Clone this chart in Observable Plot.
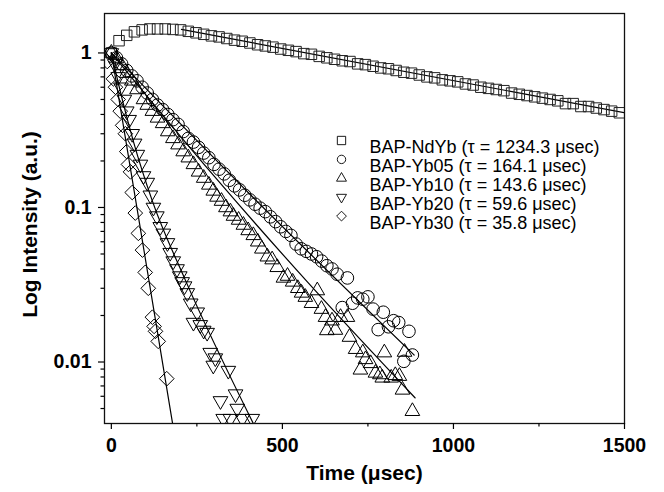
<!DOCTYPE html>
<html><head><meta charset="utf-8">
<script src="https://cdn.jsdelivr.net/npm/d3@7"></script>
<script src="https://cdn.jsdelivr.net/npm/@observablehq/plot@0.6"></script>
<style>
body{margin:0;background:#fff;}
#chart svg{display:block;}
</style></head><body><div id="chart"></div>
<script>
// ---- data ----
const seriesNames = ["BAP-NdYb","BAP-Yb05","BAP-Yb10","BAP-Yb20","BAP-Yb30"];
const tauValues = ["1234.3","164.1","143.6","59.6","35.8"];
const xMajorTicks = [0,500,1000,1500];
const xMinorTicks = [250,750,1250];
const yMajorTicks = [1,0.1,0.01];
const yMinorTicks = [0.005,0.006,0.007,0.008,0.009,0.02,0.03,0.04,0.05,0.06,0.07,0.08,0.09,0.2,0.3,0.4,0.5,0.6,0.7,0.8,0.9];

// [time (µs), intensity]
const ndyb = [[0,1.00],[22.5,1.20],[45,1.30],[67.5,1.37],[90,1.41],[112.5,1.43],[135,1.43],[157.5,1.43],[180,1.42],[202.5,1.41],
[225,1.38],[247.5,1.35],[270,1.32],[292.5,1.29],[315,1.27],[337.5,1.24],[360,1.21],[382.5,1.19],[405,1.16],[427.5,1.13],
[450,1.11],[472.5,1.09],[495,1.06],[517.5,1.04],[540,1.02],[562.5,0.99],[585,0.98],[607.5,0.95],[630,0.93],[652.5,0.91],
[675,0.89],[697.5,0.88],[720,0.85],[742.5,0.84],[765,0.82],[787.5,0.80],[810,0.79],[832.5,0.77],[855,0.75],[877.5,0.74],
[900,0.72],[922.5,0.70],[945,0.69],[967.5,0.67],[990,0.66],[1012.5,0.65],[1035,0.63],[1057.5,0.62],[1080,0.60],[1102.5,0.59],
[1125,0.58],[1147.5,0.57],[1170,0.55],[1192.5,0.54],[1215,0.53],[1237.5,0.52],[1260,0.51],[1282.5,0.50],[1305,0.49],[1327.5,0.47],
[1350,0.47],[1372.5,0.45],[1395,0.45],[1417.5,0.44],[1440,0.43],[1462.5,0.42],[1485,0.41]];

const yb05 = [[0,1.00],[15,0.93],[30,0.85],[45,0.77],[60,0.71],[75,0.66],[90,0.60],[105,0.55],[120,0.50],[135,0.46],
[150,0.43],[165,0.40],[180,0.37],[195,0.345],[210,0.31],[225,0.28],[240,0.265],[255,0.245],[270,0.225],[285,0.21],
[300,0.19],[315,0.177],[330,0.165],[345,0.15],[360,0.138],[375,0.13],[390,0.12],[405,0.112],[420,0.105],[435,0.099],
[450,0.094],[465,0.087],[480,0.081],[495,0.075],[510,0.070],[525,0.066],[540,0.058],[555,0.054],[570,0.052],[585,0.050],
[600,0.048],[615,0.045],[630,0.042],[645,0.040],[660,0.037],[675,0.0225],[690,0.035],[705,0.024],[720,0.026],[735,0.0255],
[750,0.0264],[765,0.022],[780,0.0162],[795,0.021],[810,0.0169],[825,0.0185],[840,0.018],[855,0.0101],[870,0.0158],[880,0.0111]];

const yb10 = [[0,1.0],[15,0.92],[30,0.83],[45,0.74],[60,0.66],[75,0.58],[94,0.50],[105,0.46],[120,0.42],[135,0.38],
[150,0.35],[165,0.31],[180,0.28],[195,0.255],[210,0.23],[225,0.21],[240,0.19],[255,0.17],[270,0.155],[285,0.14],
[298,0.128],[309,0.117],[322,0.11],[335,0.10],[348,0.094],[357,0.088],[372,0.083],[386,0.077],[400,0.071],[415,0.066],
[428,0.060],[440,0.054],[456,0.048],[470,0.046],[485,0.041],[503,0.035],[515,0.036],[530,0.033],[545,0.030],[556,0.028],
[567,0.0263],[585,0.024],[602,0.029],[614,0.022],[626,0.0195],[630,0.016],[645,0.0185],[655,0.0161],[670,0.0195],[690,0.0195],
[696,0.0145],[714,0.0121],[728,0.0089],[735,0.0115],[743,0.0104],[758,0.0098],[772,0.0085],[785,0.0083],[792,0.0079],[798,0.0115],
[818,0.0079],[830,0.0082],[842,0.0081],[851,0.0066],[857,0.0116],[880,0.0048]];

const yb20 = [[0,1.0],[10,0.85],[20,0.70],[28,0.60],[38,0.50],[45,0.42],[52,0.37],[61,0.30],[68,0.26],[76,0.22],
[85,0.19],[94,0.16],[105,0.145],[114,0.12],[123,0.10],[133,0.088],[143,0.075],[152,0.068],[164,0.059],[172,0.051],
[181,0.045],[192,0.040],[200,0.036],[207,0.033],[214,0.031],[222,0.028],[232,0.024],[240,0.018],[251,0.021],[260,0.0174],
[270,0.0160],[280,0.0155],[289,0.0115],[298,0.0095],[304,0.0106],[319,0.0056],[327,0.0043],[342,0.0088],[348,0.0043],[363,0.0062],
[368,0.0050],[383,0.0043],[412,0.0043]];

const yb30 = [[-12,0.88],[6,0.68],[12,0.60],[20,0.50],[26,0.42],[33,0.34],[41,0.30],[45,0.23],[50,0.19],[56,0.17],
[61,0.125],[70,0.092],[79,0.068],[91,0.053],[99,0.038],[108,0.030],[120,0.0195],[125,0.017],[129,0.0158],[137,0.0136],[162,0.0078]];

// fitted decay curves (endpoints / knots)
const ndybFit = [[205,1.42],[1500,0.41]];
const yb05Fit = [[0,1],[400,0.125],[885,0.0111]];
const yb10Fit = [[0,1],[300,0.16],[573,0.033],[888,0.00586]];
const yb20Fit = [[0,1],[30,0.52],[64,0.27],[120,0.11],[216,0.034],[415,0.004]];
const yb30Fit = [[0,1],[179,0.004]];

// ---- build tables ----
const seriesPts = [ndyb, yb05, yb10, yb20, yb30];
const seriesFits = [ndybFit, yb05Fit, yb10Fit, yb20Fit, yb30Fit];
const symbolOf = ["square","circle","triangle","triangle","diamond2"];
const rotateOf = [0,0,0,180,0];
const rOf = [5.9,6.3,5.45,5.45,6.6];
const legendR = [4.7,4.2,3.7,3.7,4.4];

const fitRows = seriesFits.flatMap((f,i)=>f.map(([t,v])=>({t,v,s:seriesNames[i]})));

const FONT = "'Liberation Sans', Arial, Helvetica, sans-serif";

const marks = [
  Plot.frame({stroke:"#111", strokeWidth:1.3}),
  Plot.axisY({anchor:"left", ticks:yMajorTicks, tickSize:6, tickPadding:7, tickFormat:d=>String(d), fontSize:19.5, fontWeight:"bold", label:null, strokeWidth:1.2}),
  Plot.axisY({anchor:"left", ticks:yMinorTicks, tickSize:3.5, tickFormat:()=>"", label:null, strokeWidth:1.2}),
  Plot.axisX({anchor:"bottom", ticks:xMajorTicks, tickSize:6, tickPadding:9, tickFormat:d=>String(d), fontSize:19.5, fontWeight:"bold", label:null, strokeWidth:1.2}),
  Plot.axisX({anchor:"bottom", ticks:xMinorTicks, tickSize:3.5, tickFormat:()=>"", label:null, strokeWidth:1.2}),
  Plot.line(fitRows, {x:"t", y:"v", z:"s", stroke:"black", strokeWidth:1.2, curve:"monotone-x", clip:true})
];
seriesPts.forEach((pts,i)=>{
  marks.push(Plot.dot(pts, {x:d=>d[0], y:d=>d[1], symbol:symbolOf[i], rotate:rotateOf[i], r:rOf[i],
    stroke: i===0 ? "#222" : "black", strokeWidth:1, fill:"none", clip:true}));
});
// legend inside the frame
seriesNames.forEach((name,i)=>{
  const dy = 127 + i*18.9;
  marks.push(Plot.dot([name], {frameAnchor:"top-left", dx:237, dy, symbol:symbolOf[i], rotate:rotateOf[i], r:legendR[i], stroke:"black", strokeWidth:0.9, fill:"none"}));
  marks.push(Plot.text([`${name} (τ = ${tauValues[i]} μsec)`], {frameAnchor:"top-left", dx:265, dy, text:d=>d, textAnchor:"start", fontSize:18, fill:"black"}));
});
// axis titles
marks.push(Plot.text(["Time (μsec)"], {frameAnchor:"bottom", dy:56, text:d=>d, textAnchor:"middle", fontSize:21, fontWeight:"bold", fill:"black"}));
marks.push(Plot.text(["Log Intensity (a.u.)"], {frameAnchor:"left", dx:-74, dy:6, rotate:-90, text:d=>d, textAnchor:"middle", fontSize:21, fontWeight:"bold", fill:"black"}));

const chart = Plot.plot({
  width:664, height:492,
  marginLeft:104, marginRight:40, marginTop:13, marginBottom:69,
  style:{fontFamily:FONT, background:"white", color:"black", overflow:"visible"},
  x:{domain:[-20,1500], label:null},
  y:{type:"log", domain:[0.004,1.8], label:null},
  marks
});
document.getElementById("chart").appendChild(chart);
</script></body></html>
